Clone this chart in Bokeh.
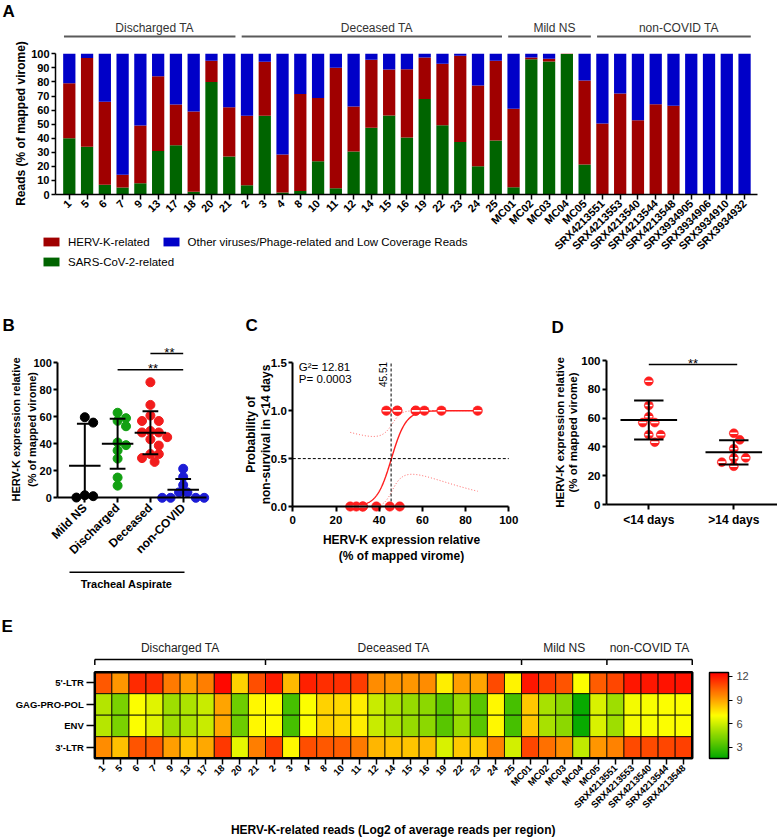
import numpy as np
from math import pi
from bokeh.plotting import figure
from bokeh.models import (Range1d, FixedTicker, Label, Legend, LegendItem,
                          ColumnDataSource, LinearColorMapper, ColorBar,
                          NumeralTickFormatter)
from bokeh.layouts import column, row
from bokeh.embed import file_html
from bokeh.resources import INLINE

FONT = "Liberation Sans"

# ======================= DATA =======================
# Panel A: % of mapped virome per sample
samples_A = ["1", "5", "6", "7", "9", "13", "17", "18", "20", "21",
             "2", "3", "4", "8", "10", "11", "12", "14", "15", "16", "19", "22", "23", "24", "25",
             "MC01", "MC02", "MC03", "MC04", "MC05",
             "SRX4213551", "SRX4213553", "SRX4213540", "SRX4213544", "SRX4213548",
             "SRX3934905", "SRX3934906", "SRX3934910", "SRX3934932"]
groups_A = ["Discharged TA", "Deceased TA", "Mild NS", "non-COVID TA"]
group_sizes_A = [10, 15, 5, 9]
sars_pct = [40, 34, 7, 5, 8, 31, 35, 2, 80, 27,
            6.5, 56, 1.5, 2.5, 23.7, 4.5, 30.6, 47.4, 56.2, 40.5, 67.8, 49.3, 37.4, 20.1, 38.4,
            5.2, 96.2, 94.5, 99.8, 21.3,
            0, 0, 0, 0, 0, 0, 0, 0, 0]
hervk_pct = [39, 63, 59, 9, 41, 53, 29, 57, 15, 35,
             49.5, 38.3, 27, 69, 44.8, 85.6, 32, 48.4, 32.7, 48.5, 29.6, 43.7, 61.2, 57.4, 56.6,
             55.7, 1.2, 1.9, 0.2, 59.7,
             50.5, 71.8, 52.8, 64.2, 63, 0, 0, 0, 0]
legend_A = ["HERV-K-related", "Other viruses/Phage-related and Low Coverage Reads",
            "SARS-CoV-2-related"]

# Panel B
categories_B = ["Mild NS", "Discharged", "Deceased", "non-COVID"]
noncovid_hervk = [21.5, 15.5, 9.5, 4.0, 4.0, 0.0, 0.0, 0.0, 0.0]
sig_B = [(2, 3, "**"), (1, 3, "**")]

# Panels C / D (deceased patients split by survival time)
hervk_lt14 = [85.6, 68.8, 60.9, 56.9, 56.9, 48.4, 48.4, 43.3]
hervk_gt14 = [49.5, 44.9, 38.7, 32.4, 32.4, 29.4, 26.6]
categories_D = ["<14 days", ">14 days"]
stats_C = ["G\u00b2= 12.81", "P= 0.0003"]
x50_C = 45.51

# Panel E: log2 of average reads per region
samples_E = samples_A[:35]
regions_E = ["5'-LTR", "GAG-PRO-POL", "ENV", "3'-LTR"]
groups_E = ["Discharged TA", "Deceased TA", "Mild NS", "non-COVID TA"]
group_sizes_E = [10, 15, 5, 5]
ltr5_log2 = [10.6, 9.3, 11.6, 11.5, 9.9, 9.1, 9.8, 12.3, 8.0, 10.8,
             11.9, 8.5, 11.8, 11.5, 11.5, 11.2, 9.5, 9.3, 9.3, 9.5, 7.4, 9.1, 9.0, 10.9, 7.3,
             12.0, 11.2, 10.7, 7.0, 10.5,
             11.0, 12.0, 12.0, 12.1, 12.1]
gag_log2 = [5.45, 4.2, 7.0, 6.4, 5.0, 5.3, 5.9, 9.0, 3.95, 7.2,
            7.1, 3.1, 7.0, 8.0, 7.9, 7.4, 5.9, 5.3, 4.8, 4.6, 3.5, 4.8, 3.5, 7.2, 3.1,
            8.2, 5.2, 4.6, 1.8, 6.2,
            5.0, 6.8, 6.9, 7.0, 7.0]
env_log2 = [5.5, 4.2, 7.0, 6.4, 5.0, 5.3, 5.9, 8.9, 3.9, 7.2,
            7.1, 3.1, 7.0, 8.0, 7.9, 7.4, 5.9, 5.3, 4.8, 4.6, 3.5, 4.8, 3.5, 7.2, 3.1,
            8.2, 5.2, 4.6, 1.8, 6.2,
            5.0, 6.8, 6.9, 7.0, 7.0]
ltr3_log2 = [9.5, 8.4, 10.7, 10.6, 9.1, 8.3, 8.9, 11.3, 6.5, 9.8,
             11.1, 7.2, 10.8, 10.6, 10.5, 9.9, 8.6, 8.4, 8.3, 8.5, 6.2, 8.2, 8.1, 9.7, 6.1,
             11.0, 10.1, 9.5, 5.7, 9.3,
             9.7, 10.9, 10.9, 11.0, 11.1]
colorbar_ticks = [3, 6, 9, 12]
scale_low, scale_high = 1.6, 12.5

# ======================= STYLE =======================
GREEN_A, RED_A, BLUE_A = "#006400", "#A00000", "#0000C8"
B_COLORS = ["#000000", "#12A012", "#F21C1C", "#1C1CD6"]
RED_PT = "#FF1E1E"


class PxMap:
    """maps local pixel positions of a canvas to data coordinates"""
    def __init__(self, W, H, x_px, x_val, x_ppu, y_px, y_val, y_ppu):
        self.W, self.H = W, H
        self.x_px, self.x_val, self.x_ppu = x_px, x_val, x_ppu
        self.y_px, self.y_val, self.y_ppu = y_px, y_val, y_ppu

    def x(self, px):
        return self.x_val + (px - self.x_px) / self.x_ppu

    def y(self, py):
        return self.y_val - (py - self.y_px) / self.y_ppu

    def ranges(self):
        return (Range1d(self.x(0), self.x(self.W)),
                Range1d(self.y(self.H), self.y(0)))


def make_fig(m):
    xr, yr = m.ranges()
    p = figure(width=m.W, height=m.H, x_range=xr, y_range=yr, title=None,
               output_backend="svg", toolbar_location=None, tools="")
    p.min_border_left = p.min_border_right = 0
    p.min_border_top = p.min_border_bottom = 0
    p.outline_line_color = None
    p.xgrid.visible = False
    p.ygrid.visible = False
    p.background_fill_color = "white"
    p.border_fill_color = "white"
    return p


def style_axis(ax, size, bold=True, tick_out=4, standoff=3, lw=1.5):
    ax.axis_line_color = "black"
    ax.axis_line_width = lw
    ax.major_tick_line_color = "black"
    ax.major_tick_line_width = lw
    ax.major_tick_in = 0
    ax.major_tick_out = tick_out
    ax.minor_tick_line_color = None
    ax.major_label_standoff = standoff
    ax.major_label_text_font = FONT
    ax.major_label_text_font_size = size
    ax.major_label_text_font_style = "bold" if bold else "normal"
    ax.major_label_text_color = "black"


def txt(p, x, y, text, size, bold=False, align="center", baseline="middle",
        angle=0.0, color="black"):
    p.add_layout(Label(x=x, y=y, text=text, text_font=FONT, text_font_size=size,
                       text_font_style="bold" if bold else "normal",
                       text_align=align, text_baseline=baseline, angle=angle,
                       text_color=color))


def swarm(vals, ppu_y, ppu_x, step_px, min_px):
    n = len(vals)
    offs = [0.0] * n
    placed = []
    cands = [0]
    for j in range(1, 12):
        cands += [j, -j]
    for i in sorted(range(n), key=lambda k: -vals[k]):
        yp = vals[i] * ppu_y
        for c in cands:
            xp = c * step_px
            if all((xp - a) ** 2 + (yp - b) ** 2 >= min_px ** 2 for a, b in placed):
                placed.append((xp, yp))
                offs[i] = xp / ppu_x
                break
    return offs


def mean_sd(p, xc, vals, half_mean, half_cap, lw=2.0):
    m = float(np.mean(vals))
    s = float(np.std(vals, ddof=1))
    lo, hi = max(m - s, 0.0), m + s
    x0 = [xc, xc - half_mean, xc - half_cap]
    x1 = [xc, xc + half_mean, xc + half_cap]
    y0 = [lo, m, hi]
    y1 = [hi, m, hi]
    if m - s >= 0:
        x0.append(xc - half_cap); x1.append(xc + half_cap); y0.append(lo); y1.append(lo)
    p.segment(x0=x0, y0=y0, x1=x1, y1=y1, line_color="black", line_width=lw)


def striped_dots(p, xs, ys, size):
    p.scatter(xs, ys, marker="circle", size=size, fill_color=RED_PT, line_color=RED_PT,
              line_width=0.5)
    p.scatter(xs, ys, marker="dash", size=size * 0.8, line_color="white", line_width=1.6)


# ======================= PANEL A =======================
nA = len(samples_A)
idxA = np.arange(nA)
sars = np.array(sars_pct, float)
herv = np.array(hervk_pct, float)
srcA = ColumnDataSource(dict(x=idxA, base=np.zeros(nA), g=sars, r=sars + herv,
                             top=np.full(nA, 100.0)))
mA = PxMap(777, 292, 68.8, 0.0, 17.77, 194.0, 0.0, 1.407)
pA = make_fig(mA)
bw = 0.69
r_g = pA.vbar(x="x", width=bw, bottom="base", top="g", source=srcA,
              fill_color=GREEN_A, line_color=None)
r_r = pA.vbar(x="x", width=bw, bottom="g", top="r", source=srcA,
              fill_color=RED_A, line_color=None)
r_b = pA.vbar(x="x", width=bw, bottom="r", top="top", source=srcA,
              fill_color=BLUE_A, line_color=None)

xa = pA.xaxis[0]
style_axis(xa, "11px", tick_out=5, standoff=2)
xa.fixed_location = 0
xa.bounds = (mA.x(55), mA.x(757))
xa.ticker = FixedTicker(ticks=list(idxA))
xa.major_label_overrides = {int(i): s for i, s in enumerate(samples_A)}
xa.major_label_orientation = pi / 4
ya = pA.yaxis[0]
style_axis(ya, "11px", tick_out=4, standoff=2)
ya.fixed_location = mA.x(55)
ya.bounds = (0, 100)
ya.ticker = FixedTicker(ticks=list(range(0, 101, 10)))

startsA = np.cumsum([0] + group_sizes_A[:-1])
endsA = startsA + np.array(group_sizes_A) - 1
yb = mA.y(36)
pA.segment(x0=startsA - 0.3, x1=endsA + 0.35, y0=[yb] * 4, y1=[yb] * 4,
           line_color="#5a5a5a", line_width=2)
for g, s0, s1 in zip(groups_A, startsA, endsA):
    txt(pA, (s0 + s1) / 2 + 0.3, mA.y(27.5), g, "12px", color="#333333")

txt(pA, mA.x(2), mA.y(1), "A", "17px", bold=True, align="left", baseline="top")
txt(pA, mA.x(20), mA.y(123), "Reads (% of mapped virome)", "12px", bold=True, angle=pi / 2)

leg_kw = dict(orientation="horizontal", padding=0, margin=0, border_line_color=None,
              background_fill_alpha=0, label_text_font=FONT, label_text_font_size="11.5px",
              label_text_color="black", glyph_width=20, glyph_height=11, label_height=20,
              label_standoff=7, spacing=11)
leg1 = Legend(items=[LegendItem(label=legend_A[0], renderers=[r_r]),
                     LegendItem(label=legend_A[1], renderers=[r_b])],
              location=(41, 292 - 251.7), **leg_kw)
leg2 = Legend(items=[LegendItem(label=legend_A[2], renderers=[r_g])],
              location=(41, 292 - 271.7), **leg_kw)
pA.add_layout(leg1)
pA.add_layout(leg2)

# ======================= PANEL B =======================
mB = PxMap(238, 308, 84.3, 0.0, 32.8, 205.3, 0.0, 1.35)
pB = make_fig(mB)
startA = dict(zip(groups_A, startsA))
mild_vals = hervk_pct[startA["Mild NS"]:startA["Mild NS"] + 5]
disc_vals = hervk_pct[startA["Discharged TA"]:startA["Discharged TA"] + 10]
dec_vals = hervk_lt14 + hervk_gt14
vals_B = [mild_vals, disc_vals, dec_vals, noncovid_hervk]
for k, (vals, col) in enumerate(zip(vals_B, B_COLORS)):
    offs = swarm(vals, 1.35, 32.8, 4.2, 8.0)
    xs = [k + o for o in offs]
    pB.scatter(xs, vals, marker="circle", size=9, fill_color=col, line_color=col)
    mean_sd(pB, k, vals, 0.48, 0.24)

xb = pB.xaxis[0]
style_axis(xb, "12px", tick_out=5, standoff=3, lw=2)
xb.fixed_location = 0
xb.bounds = (mB.x(57.3), mB.x(206))
xb.ticker = FixedTicker(ticks=list(range(len(categories_B))))
xb.major_label_overrides = {i: c for i, c in enumerate(categories_B)}
xb.major_label_orientation = pi / 4
yb_ax = pB.yaxis[0]
style_axis(yb_ax, "11px", tick_out=4, standoff=2, lw=2)
yb_ax.fixed_location = mB.x(57.3)
yb_ax.bounds = (0, 100)
yb_ax.ticker = FixedTicker(ticks=list(range(0, 101, 20)))

for (c0, c1, lab), ly in zip(sig_B, [61.0, 77.3]):
    pB.segment(x0=[c0], x1=[c1], y0=[mB.y(ly)], y1=[mB.y(ly)], line_color="black",
               line_width=1.5)
    txt(pB, (c0 + c1) / 2 + 0.08, mB.y(ly - 1), lab, "13px", baseline="alphabetic")

pB.segment(x0=[mB.x(69)], x1=[mB.x(184)], y0=[mB.y(279.7)], y1=[mB.y(279.7)],
           line_color="black", line_width=1.5)
txt(pB, mB.x(126), mB.y(291), "Tracheal Aspirate", "11px", bold=True)
txt(pB, mB.x(2), mB.y(23), "B", "17px", bold=True, align="left", baseline="top")
txt(pB, mB.x(15), mB.y(137), "HERV-K expression relative", "11px", bold=True, angle=pi / 2)
txt(pB, mB.x(31.5), mB.y(137), "(% of mapped virome)", "11px", bold=True, angle=pi / 2)

# ======================= PANEL C =======================
mC = PxMap(282, 308, 54.3, 0.0, 2.16, 214.0, 0.0, 95.8)
pC = make_fig(mC)
xC = np.array(hervk_lt14 + hervk_gt14, float)
yC = np.array([1.0] * len(hervk_lt14) + [0.0] * len(hervk_gt14))
xm = xC.mean()
X = np.column_stack([np.ones_like(xC), xC - xm])
beta = np.zeros(2)
for _ in range(200):
    pr = 1.0 / (1.0 + np.exp(-(X @ beta)))
    w = pr * (1 - pr)
    Hm = X.T @ (X * w[:, None])
    step = np.linalg.solve(Hm, X.T @ (yC - pr))
    step = np.clip(step, -2, 2)
    beta = beta + step
    if np.abs(step).max() < 1e-10:
        break
pr = 1.0 / (1.0 + np.exp(-(X @ beta)))
w = pr * (1 - pr)
cov = np.linalg.inv(X.T @ (X * w[:, None]))
xg = np.linspace(xC.min(), xC.max(), 300)
dg = xg - xm
eta = beta[0] + beta[1] * dg
se = np.sqrt(cov[0, 0] + 2 * dg * cov[0, 1] + dg ** 2 * cov[1, 1])
expit = lambda v: 1.0 / (1.0 + np.exp(-v))
pC.line(xg, expit(eta + 1.96 * se), line_color="#FF5A5A", line_width=1, line_dash="1 2")
pC.line(xg, expit(eta - 1.96 * se), line_color="#FF5A5A", line_width=1, line_dash="1 2")
pC.line(xg, expit(eta), line_color="#FF1E1E", line_width=1.4)
pC.segment(x0=[x50_C, 0], y0=[0, 0.5], x1=[x50_C, 100], y1=[1.5, 0.5],
           line_color="black", line_width=1, line_dash="3 2")
striped_dots(pC, list(xC), list(yC), 9.5)

xc_ax = pC.xaxis[0]
style_axis(xc_ax, "11.5px", tick_out=5, standoff=4, lw=2)
xc_ax.fixed_location = 0
xc_ax.bounds = (0, 100)
xc_ax.ticker = FixedTicker(ticks=list(range(0, 101, 20)))
yc_ax = pC.yaxis[0]
style_axis(yc_ax, "11.5px", tick_out=4, standoff=2, lw=2)
yc_ax.fixed_location = 0
yc_ax.bounds = (0, 1.5)
yc_ax.ticker = FixedTicker(ticks=[0, 0.5, 1.0, 1.5])
yc_ax.formatter = NumeralTickFormatter(format="0.0")

txt(pC, mC.x(60.3), mC.y(74), stats_C[0], "11.5px", align="left")
txt(pC, mC.x(60.3), mC.y(86.7), stats_C[1], "11.5px", align="left")
txt(pC, mC.x(144), mC.y(82), f"{x50_C:.2f}", "10px", angle=pi / 2)
txt(pC, mC.x(7), mC.y(23), "C", "17px", bold=True, align="left", baseline="top")
txt(pC, mC.x(12), mC.y(142), "Probability of", "12px", bold=True, angle=pi / 2)
txt(pC, mC.x(27), mC.y(142), "non-survival in <14 days", "12px", bold=True, angle=pi / 2)
txt(pC, mC.x(163), mC.y(247.3), "HERV-K expression relative", "12px", bold=True)
txt(pC, mC.x(163), mC.y(263), "(% of mapped virome)", "12px", bold=True)

# ======================= PANEL D =======================
mD = PxMap(257, 308, 128.3, 0.0, 85.0, 212.0, 0.0, 1.44)
pD = make_fig(mD)
for k, vals in enumerate([hervk_lt14, hervk_gt14]):
    offs = swarm(vals, 1.44, 85.0, 6.0, 8.0)
    striped_dots(pD, [k + o for o in offs], vals, 9)
    mean_sd(pD, k, vals, 0.333, 0.173)

xd = pD.xaxis[0]
style_axis(xd, "12px", tick_out=5, standoff=3, lw=2)
xd.fixed_location = 0
xd.bounds = (mD.x(86), mD.x(257))
xd.ticker = FixedTicker(ticks=[0, 1])
xd.major_label_overrides = {i: c for i, c in enumerate(categories_D)}
yd = pD.yaxis[0]
style_axis(yd, "11.5px", tick_out=4, standoff=2, lw=2)
yd.fixed_location = mD.x(86)
yd.bounds = (0, 100)
yd.ticker = FixedTicker(ticks=list(range(0, 101, 20)))

pD.segment(x0=[0], x1=[1.04], y0=[mD.y(72)], y1=[mD.y(72)], line_color="black", line_width=1.5)
txt(pD, 0.52, mD.y(71), "**", "13px", baseline="alphabetic")
txt(pD, mD.x(31), mD.y(25), "D", "17px", bold=True, align="left", baseline="top")
txt(pD, mD.x(39), mD.y(140), "HERV-K expression relative", "11.5px", bold=True, angle=pi / 2)
txt(pD, mD.x(52), mD.y(140), "(% of mapped virome)", "11.5px", bold=True, angle=pi / 2)

# ======================= PANEL E =======================
mE = PxMap(777, 237, 94.3 + 17.07 / 2, 0.0, 17.07, 157.7 - 21.5 / 2, 0.0, 21.5)
pE = make_fig(mE)
rows_E = [ltr5_log2, gag_log2, env_log2, ltr3_log2]
nE = len(samples_E)
hx, hy, hv = [], [], []
for r, vals in enumerate(rows_E):
    for i, v in enumerate(vals):
        hx.append(i)
        hy.append(len(rows_E) - 1 - r)
        hv.append(v)


def lerp(c0, c1, t):
    return tuple(int(round(a + (b - a) * t)) for a, b in zip(c0, c1))


stops = [(0, 168, 0), (255, 255, 0), (255, 0, 0)]
palette = []
for k in range(256):
    t = k / 255 * 2
    seg = min(int(t), 1)
    c = lerp(stops[seg], stops[seg + 1], t - seg)
    palette.append("#%02x%02x%02x" % c)
mapper = LinearColorMapper(palette=palette, low=scale_low, high=scale_high)
srcE = ColumnDataSource(dict(x=hx, y=hy, v=hv))
pE.rect(x="x", y="y", width=1, height=1, source=srcE,
        fill_color={"field": "v", "transform": mapper}, line_color="black", line_width=0.8)
pE.rect(x=[(nE - 1) / 2], y=[1.5], width=nE, height=4, fill_color=None,
        line_color="black", line_width=2.5)

xe = pE.xaxis[0]
style_axis(xe, "9.5px", tick_out=6, standoff=2, lw=1.5)
xe.axis_line_color = None
xe.fixed_location = -0.5
xe.ticker = FixedTicker(ticks=list(range(nE)))
xe.major_label_overrides = {i: s for i, s in enumerate(samples_E)}
xe.major_label_orientation = pi / 4
ye = pE.yaxis[0]
style_axis(ye, "9.5px", tick_out=8, standoff=3, lw=1.5)
ye.axis_line_color = None
ye.fixed_location = -0.5
ye.ticker = FixedTicker(ticks=[0, 1, 2, 3])
ye.major_label_overrides = {len(regions_E) - 1 - r: name for r, name in enumerate(regions_E)}

startsE = np.cumsum([0] + group_sizes_E[:-1])
endsE = startsE + np.array(group_sizes_E)
ybr, ytk = mE.y(59), mE.y(64.5)
bx0 = list(startsE - 0.5)
bx1 = list(endsE - 0.5)
pE.segment(x0=bx0, x1=bx1, y0=[ybr] * 4, y1=[ybr] * 4, line_color="black", line_width=1.5)
edges = sorted(set(bx0 + bx1))
pE.segment(x0=edges, x1=edges, y0=[ybr] * len(edges), y1=[ytk] * len(edges),
           line_color="black", line_width=1.5)
for g, a, b in zip(groups_E, bx0, bx1):
    txt(pE, (a + b) / 2, mE.y(47.7), g, "12px", color="#222222")

cb = ColorBar(color_mapper=mapper, location=(709, 237 - 158), width=19, height=86,
              padding=0, margin=0, ticker=FixedTicker(ticks=colorbar_ticks),
              major_tick_in=0, major_tick_out=4, major_tick_line_color="black",
              major_tick_line_width=1.2, bar_line_color="black", bar_line_width=1.5,
              major_label_text_font=FONT, major_label_text_font_size="11px",
              label_standoff=4, background_fill_alpha=0, border_line_color=None,
              orientation="vertical")
pE.add_layout(cb)

txt(pE, mE.x(1), mE.y(16), "E", "17px", bold=True, align="left", baseline="top")
txt(pE, mE.x(392.7), mE.y(229), "HERV-K-related reads (Log2 of average reads per region)",
    "12px", bold=True)

layout = column(pA, row(pB, pC, pD), pE)
open("out.html", "w").write(file_html(layout, INLINE))
